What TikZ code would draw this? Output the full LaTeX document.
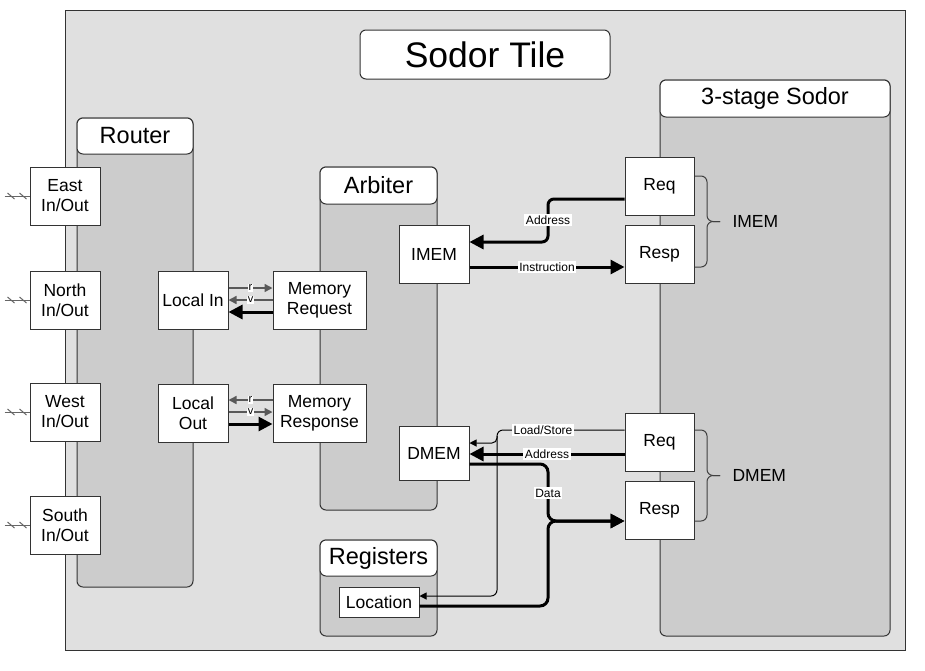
\documentclass[tikz,border=0pt]{standalone}
\usepackage{fontspec}
\setmainfont{Liberation Sans}
\usetikzlibrary{arrows.meta}

\begin{document}
\begin{tikzpicture}[x=1pt, y=-1pt,
    tile/.style={draw=black!80, fill=black!12, line width=1pt, inner sep=0pt},
    panel/.style={draw=black!80, fill=black!20, line width=1pt, rounded corners=6pt, inner sep=0pt},
    head/.style={draw=black!80, fill=white, line width=1pt, rounded corners=6pt, inner sep=0pt, font=\fontsize{23.5}{26}\selectfont},
    box/.style={draw=black!80, fill=white, line width=1pt, inner sep=0pt, align=center, font=\fontsize{17.5}{20}\selectfont},
    tag/.style={fill=white, inner sep=1.5pt, font=\fontsize{12}{12}\selectfont},
    rv/.style={fill=white, inner sep=1pt, font=\fontsize{11}{11}\selectfont},
    bus/.style={line width=3pt, -{Triangle[length=14pt,width=14pt]}},
    ctl/.style={draw=black!65, line width=1.5pt, -{Triangle[length=8pt,width=8pt]}},
    wire/.style={line width=1pt, -{Triangle[length=7pt,width=7pt]}},
    brc/.style={draw=black!75, line width=1pt, rounded corners=6pt}]
    \useasboundingbox (0,0) rectangle (925,670);

    \node[tile, minimum width=840pt, minimum height=640pt] (tile) at (485,330) {};
    \node[head, font=\fontsize{35.5}{38}\selectfont, minimum width=250pt, minimum height=49pt] (title) at (485,54.5) {Sodor Tile};

    % panels
    \node[panel, minimum width=116pt, minimum height=469pt] (router) at (135,352.5) {};
    \node[head, minimum width=116pt, minimum height=36pt, anchor=north] (routerhd) at (router.north) {Router};
    \node[panel, minimum width=117pt, minimum height=343pt] (arbiter) at (378.5,338.5) {};
    \node[head, minimum width=117pt, minimum height=37pt, anchor=north] (arbiterhd) at (arbiter.north) {Arbiter};
    \node[panel, minimum width=117pt, minimum height=96pt] (regs) at (378.5,588) {};
    \node[head, minimum width=117pt, minimum height=36pt, anchor=north] (regshd) at (regs.north) {Registers};
    \node[panel, minimum width=230pt, minimum height=556pt] (sodor) at (775,358) {};
    \node[head, minimum width=230pt, minimum height=37pt, anchor=north] (sodorhd) at (sodor.north) {3-stage Sodor};

    % router ports
    \node[box, minimum width=70pt, minimum height=58pt] (east) at (65,196) {East\\In/Out};
    \node[box, minimum width=70pt, minimum height=58pt] (north) at (65,300) {North\\In/Out};
    \node[box, minimum width=70pt, minimum height=58pt] (west) at (65,412) {West\\In/Out};
    \node[box, minimum width=70pt, minimum height=58pt] (south) at (65,525) {South\\In/Out};
    \node[box, minimum width=70pt, minimum height=58pt] (localin) at (193,300) {Local In};
    \node[box, minimum width=70pt, minimum height=58pt] (localout) at (193,413) {Local\\Out};

    % arbiter
    \node[box, minimum width=93pt, minimum height=58pt] (memreq) at (319.5,300) {Memory\\Request};
    \node[box, minimum width=93pt, minimum height=58pt] (memresp) at (319.5,413) {Memory\\Response};
    \node[box, minimum width=70pt, minimum height=58pt] (imem) at (434,254) {IMEM};
    \node[box, minimum width=70pt, minimum height=54pt] (dmem) at (434,453) {DMEM};
    \node[box, minimum width=80pt, minimum height=30pt] (loc) at (379,602) {Location};

    % core
    \node[box, minimum width=69pt, minimum height=58pt] (ireq) at (659.5,186) {Req};
    \node[box, minimum width=69pt, minimum height=58pt] (iresp) at (659.5,254) {Resp};
    \node[box, minimum width=69pt, minimum height=58pt] (dreq) at (659.5,442) {Req};
    \node[box, minimum width=69pt, minimum height=58pt] (dresp) at (659.5,510) {Resp};

    \foreach \y/\lbl in {221.5/IMEM, 475.5/DMEM} {
        \draw[brc] (695,\y-45.5) -| (707,\y) -- (720,\y);
        \draw[brc] (695,\y+45.5) -| (707,\y) -- (720,\y);
        \node[anchor=west, font=\fontsize{17.5}{20}\selectfont] (\lbl lbl) at (729,\y) {\lbl};
    }

    % off-tile links
    \foreach \p in {east,north,west,south} {
        \draw[black!60, line width=1pt] ([xshift=-25pt]\p.west) -- (\p.west);
        \draw[black!60, line width=1pt] ([xshift=-22pt,yshift=3pt]\p.west) -- ++(7,6);
        \draw[black!60, line width=1pt] ([xshift=-10pt,yshift=3pt]\p.west) -- ++(7,6);
    }

    % router <-> arbiter
    \draw[ctl] ([yshift=12pt]localin.east) -- node[rv] {r} ([yshift=12pt]memreq.west);
    \draw[ctl] (memreq.west) -- node[rv] {v} (localin.east);
    \draw[bus] ([yshift=-12pt]memreq.west) -- ([yshift=-12pt]localin.east);
    \draw[ctl] ([yshift=13pt]memresp.west) -- node[rv] {r} ([yshift=13pt]localout.east);
    \draw[ctl] ([yshift=1pt]localout.east) -- node[rv] {v} ([yshift=1pt]memresp.west);
    \draw[bus] ([yshift=-11pt]localout.east) -- ([yshift=-11pt]memresp.west);

    % imem
    \coordinate (iaddr) at (548,220);
    \draw[bus, rounded corners=6pt] ([yshift=-13pt]ireq.west) -| (iaddr) |- ([yshift=12pt]imem.east);
    \node[tag] (iaddrlbl) at (iaddr) {Address};
    \draw[bus] ([yshift=-13pt]imem.east) -- node[tag] {Instruction} ([yshift=-13pt]iresp.west);

    % dmem
    \coordinate (lsx) at (497,520);
    \coordinate (lsbr) at (497,436);
    \draw[wire, rounded corners=6pt] ([yshift=12pt]dreq.west) -| (lsx) |- ([yshift=6pt]loc.east);
    \draw[wire, rounded corners=5pt] (lsbr) |- ([yshift=10pt]dmem.east);
    \node[tag] (lslbl) at (543,430) {Load/Store};
    \draw[bus] ([yshift=-12pt]dreq.west) coordinate (da) -- node[tag] {Address} (da -| dmem.east);

    \coordinate (dx) at (548,493);
    \coordinate (drin) at ([yshift=-11pt]dresp.west);
    \coordinate (dj) at (drin -| dx);
    \draw[bus, rounded corners=8pt] ([yshift=-11pt]dmem.east) -| (dj) -- (drin);
    \draw[bus, rounded corners=8pt] ([yshift=-4pt]loc.east) -| (dj) -- (drin);
    \node[tag] (datalbl) at (dx) {Data};
\end{tikzpicture}
\end{document}
